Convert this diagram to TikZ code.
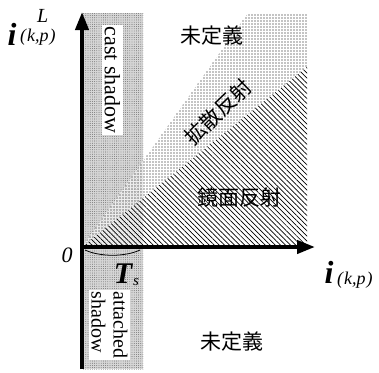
\documentclass[tikz,border=0pt]{standalone}
\usepackage{fontspec}
\setmainfont{Liberation Serif}
\newfontfamily\jp{Noto Sans CJK JP}
\usetikzlibrary{patterns.meta,arrows.meta}
\begin{document}
\begin{tikzpicture}[x=1pt,y=-1pt,
  axisline/.style={line width=4pt,-{Triangle[length=18pt,width=13pt]}},
  jplabel/.style={font=\jp\fontsize{21}{21}\selectfont,inner sep=0pt},
  shadowfill/.style={fill=black!16},
  shadowdots/.style={pattern={Dots[distance=2.2pt,radius=0.4pt]},pattern color=black!70},
  diffdots/.style={pattern={Dots[distance=3pt,radius=0.6pt]},pattern color=black},
  spechatch/.style={pattern={Lines[angle=-45,distance=3.6pt,line width=0.7pt]},pattern color=black},
  veil/.style={fill=white,fill opacity=0.6},
  whitebox/.style={fill=white,rotate=-90}
]
\useasboundingbox (0,0) rectangle (379,372);
% key points
\coordinate (O) at (82,247);
\coordinate (D) at (248,13);
\coordinate (TR) at (307,13);
\coordinate (S) at (307,67);
\coordinate (BR) at (307,247);
\coordinate (stripTL) at (82,13);
\coordinate (stripBR) at (143,369);
% shadow strip
\fill[shadowfill] (stripTL) rectangle (stripBR);
\fill[shadowdots] (stripTL) rectangle (stripBR);
% diffuse wedge
\fill[veil] (O) -- (D) -- (TR) -- (S) -- cycle;
\fill[diffdots] (O) -- (D) -- (TR) -- (S) -- cycle;
% specular wedge
\fill[veil] (O) -- (S) -- (BR) -- cycle;
\fill[spechatch] (O) -- (S) -- (BR) -- cycle;
% axes
\coordinate (ybot) at (82,369);
\coordinate (ytop) at (82,12);
\coordinate (xleft) at (80,247);
\coordinate (xright) at (315,247);
\draw[axisline] (ybot) -- (ytop);
\draw[axisline] (xleft) -- (xright);
% Ts arc
\coordinate (a1) at (85,250);
\coordinate (a2) at (140,250);
\draw[line width=0.8pt] (a1) .. controls (100,257) and (125,257) .. (a2);
% boxes
\node[whitebox,inner xsep=2pt,inner ysep=3pt,font=\fontsize{22}{22}\selectfont] (cast) at (112.5,80) {cast shadow};
\node[whitebox,align=left,inner sep=2pt,font=\fontsize{20}{22}\selectfont] (att) at (109.5,325) {attached\\shadow};
% axis labels
\node[anchor=base,inner sep=0pt,font=\fontsize{32}{32}\selectfont\bfseries\itshape] (iy) at (12,45) {i};
\node[anchor=base west,inner sep=0pt,font=\fontsize{20}{20}\selectfont\itshape] (iyL) at (37,22) {L};
\node[anchor=base west,inner sep=0pt,font=\fontsize{18}{18}\selectfont\itshape] (iykp) at (20,41) {(\kern1pt k,p\kern1pt)};
\node[anchor=base,inner sep=0pt,font=\fontsize{32}{32}\selectfont\bfseries\itshape] (ix) at (329,283) {i};
\node[anchor=base west,inner sep=0pt,font=\fontsize{18}{18}\selectfont\itshape] (ixkp) at (337,284) {(\kern1pt k,p\kern1pt)};
\node[anchor=base,inner sep=0pt,font=\fontsize{22}{22}\selectfont\itshape] (zero) at (67,262) {0};
\node[anchor=base,inner sep=0pt,font=\fontsize{30}{30}\selectfont\bfseries\itshape] (T) at (123,283) {T};
\node[anchor=base west,inner sep=0pt,font=\fontsize{15}{15}\selectfont\itshape] (Ts) at (133,285) {s};
% region labels
\node[jplabel] (undef1) at (212,36) {未定義};
\node[jplabel] (undef2) at (232,342) {未定義};
\node[jplabel] (spec) at (239,198) {鏡面反射};
\node[jplabel,rotate=44] (diff) at (218,112) {拡散反射};
\end{tikzpicture}
\end{document}
